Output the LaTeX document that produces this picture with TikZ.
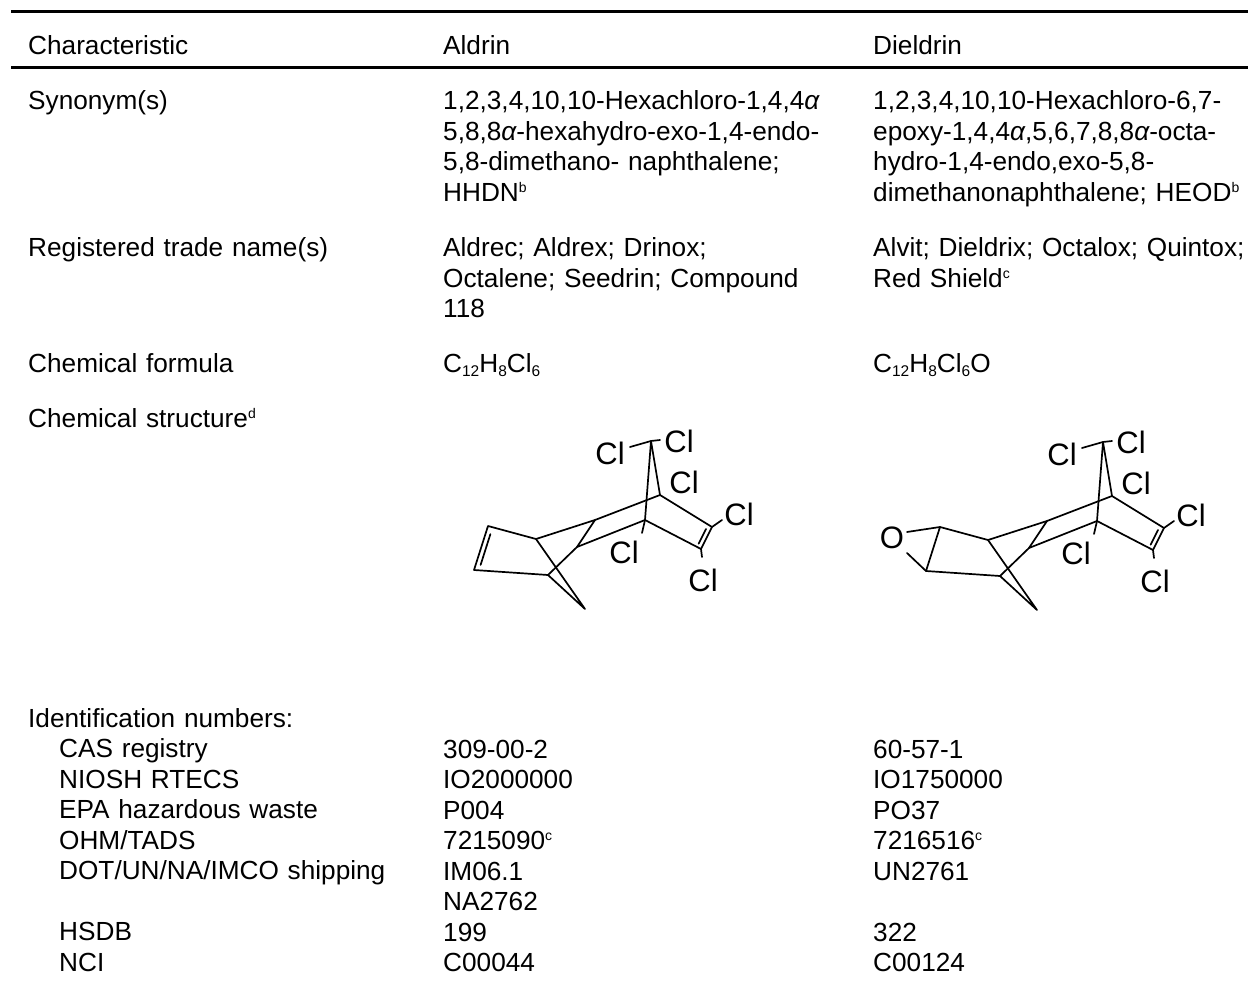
\documentclass[tikz,border=0pt]{standalone}
\usepackage{fontspec}
\setmainfont{Liberation Sans}
\usetikzlibrary{calc}

\newcommand\tabfont{\fontsize{26.2}{30.5}\selectfont}
\newcommand\atomfont{\fontsize{31}{31}\selectfont}
\newcommand\supnote[1]{\raisebox{9pt}{\fontsize{14}{14}\selectfont #1}}
\newcommand\subnum[1]{\raisebox{-5pt}{\fontsize{15.5}{15.5}\selectfont #1}}
\newcommand\al{{\itshape α}}

\tikzset{
  cell/.style={anchor=base west, inner sep=0pt, text width=400pt, align=left, font=\tabfont},
  rule/.style={line width=3pt},
  bond/.style={line width=1.7pt, line cap=round, line join=round},
  atom/.style={inner sep=0pt, font=\atomfont}
}

\begin{document}
\begin{tikzpicture}[x=1pt, y=-1pt]
    \useasboundingbox (0,0) rectangle (1248,984);
    % rules
    \draw[rule] (11,12) -- (1248,12);
    \draw[rule] (11,68) -- (1248,68);
    % header
    \node[cell] (hchar) at (28,55) {Characteristic};
    \node[cell] (hald) at (443,55) {Aldrin};
    \node[cell] (hdie) at (873,55) {Dieldrin};
    % synonyms
    \node[cell] (syn) at (28,110) {Synonym(s)};
    \node[cell] (synald) at (443,110) {1,2,3,4,10,10-Hexachloro-1,4,4\al\\5,8,8\al-hexahydro-exo-1,4-endo-\\5,8-dimethano- naphthalene;\\HHDN\supnote{b}};
    \node[cell] (syndie) at (873,110) {1,2,3,4,10,10-Hexachloro-6,7-\\epoxy-1,4,4\al,5,6,7,8,8\al-octa-\\hydro-1,4-endo,exo-5,8-\\dimethanonaphthalene; HEOD\supnote{b}};
    % trade names
    \node[cell] (trade) at (28,257) {Registered trade name(s)};
    \node[cell] (tradeald) at (443,257) {Aldrec; Aldrex; Drinox;\\Octalene; Seedrin; Compound\\118};
    \node[cell] (tradedie) at (873,257) {Alvit; Dieldrix; Octalox; Quintox;\\Red Shield\supnote{c}};
    % formula
    \node[cell] (form) at (28,372) {Chemical formula};
    \node[cell] (formald) at (443,372) {C\subnum{12}H\subnum{8}Cl\subnum{6}};
    \node[cell] (formdie) at (873,372) {C\subnum{12}H\subnum{8}Cl\subnum{6}O};
    % structure
    \node[cell] (struct) at (28,427) {Chemical structure\supnote{d}};

    % the common cage of both molecules
    \foreach \nm/\dx/\dy in {al/0/0, di/452/1}{
      \begin{scope}[shift={(\dx,\dy)}]
        \coordinate (\nm-v1) at (488,526);
        \coordinate (\nm-v2) at (474,570);
        \coordinate (\nm-a) at (536,539);
        \coordinate (\nm-k) at (548,575);
        \coordinate (\nm-b) at (595,520);
        \coordinate (\nm-c) at (577,547);
        \coordinate (\nm-m) at (585,609);
        \coordinate (\nm-d) at (660,495);
        \coordinate (\nm-e) at (645,520);
        \coordinate (\nm-f) at (651,441);
        \coordinate (\nm-g) at (712,527);
        \coordinate (\nm-h) at (701,549);
        \draw[bond] (\nm-v1) -- (\nm-a) -- (\nm-b) -- (\nm-d) -- (\nm-g) -- (\nm-h)
          -- (\nm-e) -- (\nm-c) -- (\nm-k) -- (\nm-v2) -- cycle;
        \draw[bond] (\nm-a) -- (\nm-m) -- (\nm-k);
        \draw[bond] (\nm-b) -- (\nm-c);
        \draw[bond] (\nm-d) -- (\nm-f) -- (\nm-e);
        \draw[bond] ($(\nm-g)!.18!(\nm-h)+(-4,-2)$) -- ($(\nm-g)!.85!(\nm-h)+(-4,-2)$);
        % chlorines
        \node[atom] (\nm-cl1) at (610,453) {Cl};
        \node[atom] (\nm-cl2) at (679,441) {Cl};
        \node[atom] (\nm-cl3) at (684,482) {Cl};
        \node[atom] (\nm-cl4) at (624,552) {Cl};
        \node[atom] (\nm-cl5) at (739,514) {Cl};
        \node[atom] (\nm-cl6) at (703,580) {Cl};
        \coordinate (\nm-f1) at (630,447);
        \coordinate (\nm-f2) at (660,440);
        \coordinate (\nm-e1) at (642,533);
        \coordinate (\nm-g1) at (722,520);
        \coordinate (\nm-h1) at (702,557);
        \draw[bond] (\nm-f1) -- (\nm-f) -- (\nm-f2);
        \draw[bond] (\nm-e) -- (\nm-e1);
        \draw[bond] (\nm-g) -- (\nm-g1);
        \draw[bond] (\nm-h) -- (\nm-h1);
      \end{scope}
    }
    % aldrin double bond
    \draw[bond] ($(al-v1)!.15!(al-v2)+(4.5,1.5)$) -- ($(al-v1)!.85!(al-v2)+(4.5,1.5)$);
    % dieldrin epoxide
    \node[atom] (di-o) at (892,538) {O};
    \coordinate (di-o1) at (907,532);
    \coordinate (di-o2) at (907,553);
    \draw[bond] (di-v1) -- (di-o1);
    \draw[bond] (di-v2) -- (di-o2);

    % identification numbers
    \node[cell] (ident) at (28,727) {Identification numbers:\\
      \hspace*{31pt}CAS registry\\
      \hspace*{31pt}NIOSH RTECS\\
      \hspace*{31pt}EPA hazardous waste\\
      \hspace*{31pt}OHM/TADS\\
      \hspace*{31pt}DOT/UN/NA/IMCO shipping\\[30.5pt]
      \hspace*{31pt}HSDB\\
      \hspace*{31pt}NCI};
    \node[cell] (identald) at (443,758) {309-00-2\\IO2000000\\P004\\7215090\supnote{c}\\IM06.1\\NA2762\\199\\C00044};
    \node[cell] (identdie) at (873,758) {60-57-1\\IO1750000\\PO37\\7216516\supnote{c}\\UN2761\\[30.5pt]322\\C00124};
\end{tikzpicture}
\end{document}
